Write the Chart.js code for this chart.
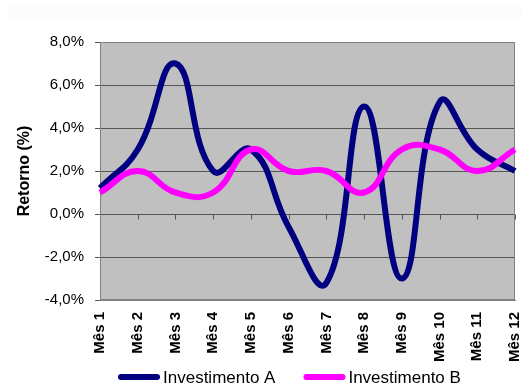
<!DOCTYPE html>
<html>
<head>
<meta charset="utf-8">
<script src="https://cdn.jsdelivr.net/npm/chart.js@4/dist/chart.umd.min.js"></script>
<style>
  html, body { margin: 0; padding: 0; background: #ffffff; }
  #wrap { width: 521px; height: 385px; position: relative; }
  canvas { display: block; }
</style>
</head>
<body>
<div id="wrap"><canvas id="c" width="521" height="385"></canvas></div>
<script>
// Monthly returns (%) for two investments
const meses = ['Mês 1', 'Mês 2', 'Mês 3', 'Mês 4', 'Mês 5', 'Mês 6',
               'Mês 7', 'Mês 8', 'Mês 9', 'Mês 10', 'Mês 11', 'Mês 12'];
const investimentoA = [1.2, 3.0, 7.0, 2.0, 3.0, -0.6, -3.2, 5.0, -3.0, 5.2, 3.0, 2.0];
const investimentoB = [1.0, 2.0, 1.0, 1.0, 3.0, 2.0, 2.0, 1.0, 3.0, 3.0, 2.0, 3.0];
const yTicks = [-4, -2, 0, 2, 4, 6, 8];

const FONT = '"Liberation Sans", Arial, sans-serif';
const GRID = '#555555';
const FRAME = '#808080';

const fmtPct = v => v.toFixed(1).replace('.', ',') + '%';

// Grey plot background, frame and the category ticks on the zero line
const plotArea = {
  id: 'plotArea',
  beforeDraw(chart) {
    const { ctx, chartArea: a } = chart;
    ctx.save();
    ctx.fillStyle = '#fbfbfb';
    ctx.fillRect(8, 7, 513, 10);
    ctx.fillStyle = '#c0c0c0';
    ctx.fillRect(a.left, a.top, a.right - a.left, a.bottom - a.top);
    ctx.restore();
  },
  beforeDatasetsDraw(chart) {
    const { ctx, chartArea: a, scales } = chart;
    const x = scales.x, y = scales.y;
    const y0 = Math.round(y.getPixelForValue(0)) + 0.5;
    ctx.save();
    ctx.strokeStyle = FRAME;
    ctx.lineWidth = 1;
    ctx.strokeRect(a.left + 0.5, a.top + 0.5, a.right - a.left - 1, a.bottom - a.top - 1);
    ctx.strokeStyle = GRID;
    ctx.beginPath();
    for (let i = 1; i < x.ticks.length; i++) {
      const px = Math.round(x.getPixelForTick(i)) + 0.5;
      ctx.moveTo(px, y0);
      ctx.lineTo(px, y0 + 5);
    }
    ctx.stroke();
    ctx.restore();
  }
};

// Legend row under the month labels: rounded line swatch + name
const legendRow = {
  id: 'legendRow',
  afterDraw(chart) {
    const { ctx } = chart;
    const yc = 377;
    ctx.save();
    ctx.font = '17px ' + FONT;
    ctx.textBaseline = 'middle';
    ctx.textAlign = 'left';
    let x = 118;
    const items = [chart.data.datasets[0], chart.data.datasets[1]];
    items.forEach(ds => {
      ctx.strokeStyle = ds.borderColor;
      ctx.lineWidth = 6;
      ctx.lineCap = 'round';
      ctx.beginPath();
      ctx.moveTo(x + 3, yc);
      ctx.lineTo(x + 39, yc);
      ctx.stroke();
      ctx.fillStyle = '#000000';
      ctx.fillText(ds.label, x + 45, yc + 1);
      x += 45 + ctx.measureText(ds.label).width + 28;
    });
    ctx.restore();
  }
};

new Chart(document.getElementById('c'), {
  type: 'line',
  data: {
    labels: meses,
    datasets: [
      {
        label: 'Investimento A',
        data: investimentoA,
        borderColor: '#000080',
        backgroundColor: '#000080',
        borderWidth: 6,
        pointRadius: 0,
        tension: 0.45,
        fill: false,
        order: 1
      },
      {
        label: 'Investimento B',
        data: investimentoB,
        borderColor: '#ff00ff',
        backgroundColor: '#ff00ff',
        borderWidth: 6,
        pointRadius: 0,
        tension: 0.45,
        fill: false,
        order: 0
      }
    ]
  },
  options: {
    responsive: false,
    animation: false,
    devicePixelRatio: 1,
    layout: { padding: { left: 0, right: 6, top: 42, bottom: 0 } },
    plugins: {
      legend: { display: false },
      tooltip: { enabled: false }
    },
    scales: {
      x: {
        offset: false,
        grid: { display: false, drawTicks: false },
        border: { display: true, color: FRAME, width: 1 },
        ticks: {
          autoSkip: false,
          minRotation: 90,
          maxRotation: 90,
          padding: 12,
          color: '#000000',
          font: { family: FONT, size: 15, weight: 'bold' }
        },
        afterFit(scale) {
          scale.height = 85;
          scale.paddingLeft = 0;
          scale.paddingRight = 0;
        }
      },
      y: {
        min: -4,
        max: 8,
        afterBuildTicks(scale) {
          scale.ticks = yTicks.map(v => ({ value: v }));
        },
        grid: {
          color: ctx => (ctx.tick && (ctx.tick.value === 8 || ctx.tick.value === -4)) ? FRAME : GRID,
          lineWidth: 1,
          tickLength: 5,
          tickColor: GRID
        },
        border: { display: true, color: FRAME, width: 1 },
        ticks: {
          padding: 11,
          color: '#000000',
          font: { family: FONT, size: 15 },
          callback: v => fmtPct(v)
        },
        title: {
          display: true,
          text: 'Retorno (%)',
          color: '#000000',
          font: { family: FONT, size: 16, weight: 'bold' },
          padding: { top: 15, bottom: 0 }
        },
        afterFit(scale) {
          scale.width = 100;
        }
      }
    }
  },
  plugins: [plotArea, legendRow]
});
</script>
</body>
</html>
